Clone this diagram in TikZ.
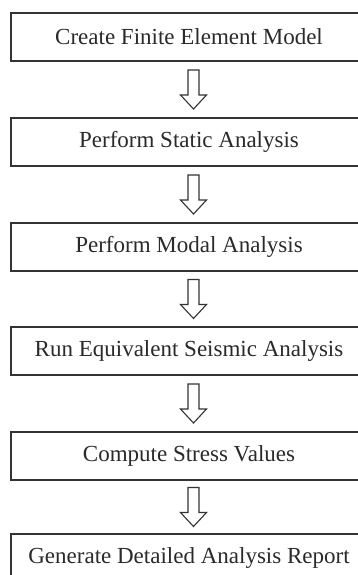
\documentclass[tikz,border=0pt]{standalone}
\usepackage{fontspec}
\setmainfont{Liberation Serif}
\definecolor{linec}{HTML}{333333}
\definecolor{textc}{HTML}{2A2A2A}
\tikzset{
  box/.style={draw=linec, line width=1.4bp, fill=white, minimum width=356bp, minimum height=48bp,
    inner sep=0pt, text=textc, font=\fontsize{23bp}{27bp}\selectfont},
  arrowline/.style={draw=linec, line width=1.1bp, fill=white, line join=miter},
  downarr/.pic={\path[arrowline] (-5.5,-19.5) -- (-5.5,5.5) -- (-13,5.5) -- (0,19.5) -- (13,5.5) -- (5.5,5.5) -- (5.5,-19.5) -- cycle;}
}
\begin{document}
\begin{tikzpicture}[x=1bp,y=-1bp]
\useasboundingbox[fill=white] (0,0) rectangle (357,575);
\node[box] (b1) at (189,37)  {Create Finite Element Model};
\node[box] (b2) at (189,142) {Perform Static Analysis};
\node[box] (b3) at (189,247) {Perform Modal Analysis};
\node[box] (b4) at (189,351) {Run Equivalent Seismic Analysis};
\node[box] (b5) at (189,456) {Compute Stress Values};
\node[box] (b6) at (189,558) {Generate Detailed Analysis Report};
\foreach \a/\b in {b1/b2,b2/b3,b3/b4,b4/b5,b5/b6}{
  \path (\a.south) -- (\b.north) coordinate[midway, xshift=4.5bp] (m\a);
  \pic at (m\a) {downarr};
}
\end{tikzpicture}
\end{document}
